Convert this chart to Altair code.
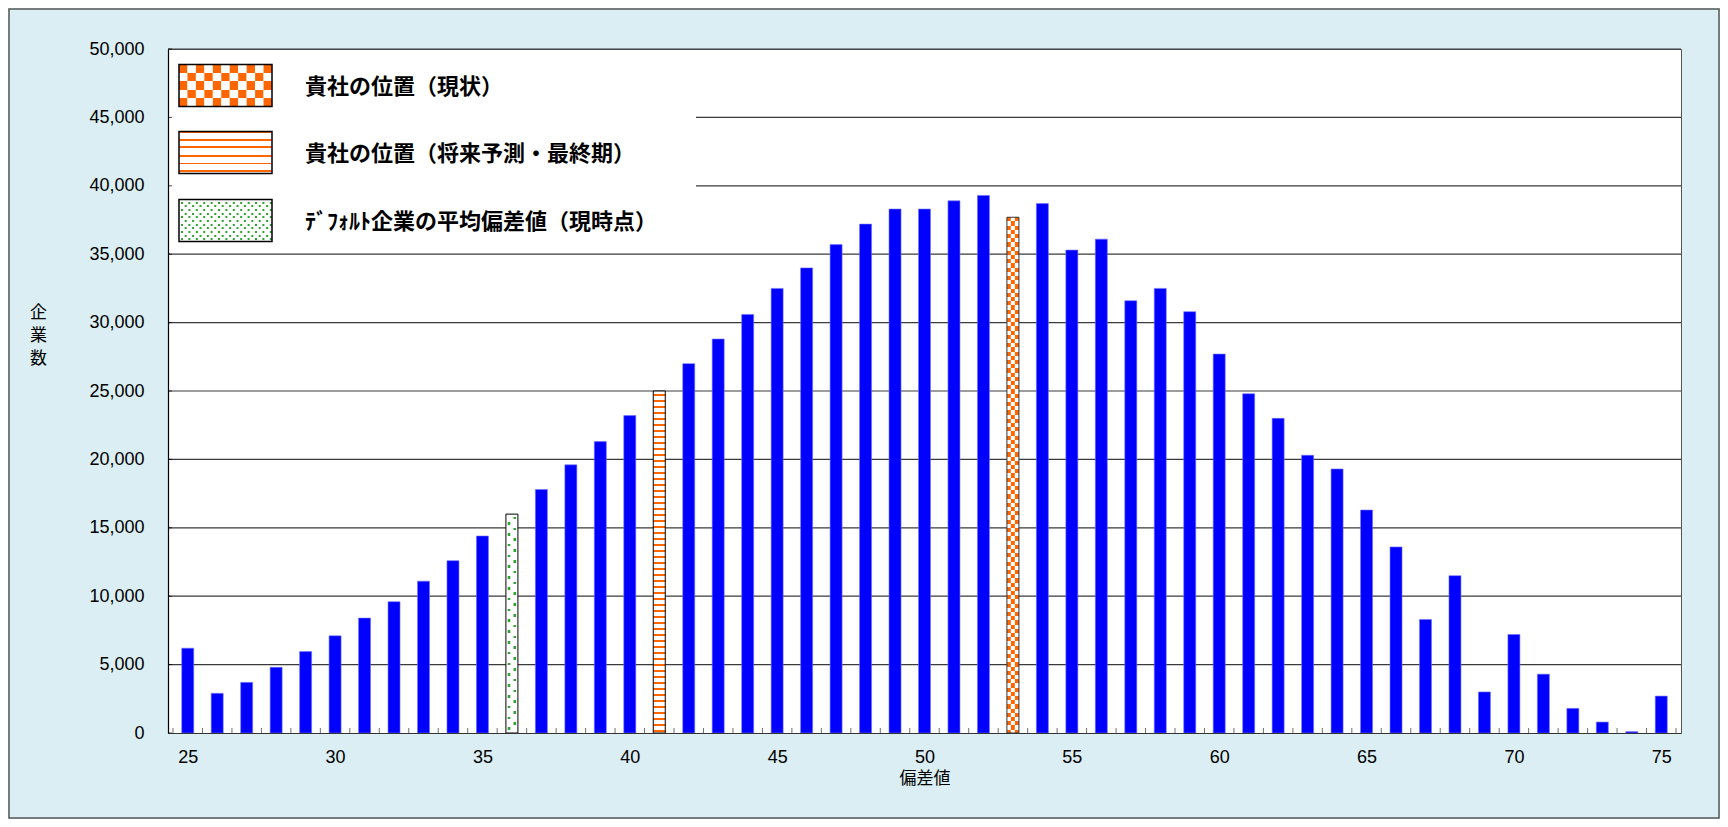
import altair as alt
import pandas as pd

# ---------------- data ----------------
scores = [25, 26, 27, 28, 29, 30, 31, 32, 33, 34, 35, 36, 37, 38, 39, 40,
          41, 42, 43, 44, 45, 46, 47, 48, 49, 50, 51, 52, 53, 54, 55, 56,
          57, 58, 59, 60, 61, 62, 63, 64, 65, 66, 67, 68, 69, 70, 71, 72,
          73, 74, 75]
counts = [6200, 2900, 3700, 4800, 5950, 7100, 8400, 9600, 11100, 12600,
          14400, 16000, 17800, 19600, 21300, 23200, 25000, 27000, 28800,
          30600, 32500, 34000, 35700, 37200, 38300, 38300, 38900, 39300,
          37700, 38700, 35300, 36100, 31600, 32500, 30800, 27700, 24800,
          23000, 20300, 19300, 16300, 13600, 8300, 11500, 3000, 7200, 4300,
          1800, 800, 100, 2700]
current_pos = 53      # 貴社の位置（現状）
future_pos = 41       # 貴社の位置（将来予測・最終期）
default_avg = 36      # デフォルト企業の平均偏差値（現時点）
legend_labels = ["貴社の位置（現状）",
                 "貴社の位置（将来予測・最終期）",
                 "ﾃﾞﾌｫﾙﾄ企業の平均偏差値（現時点）"]
y_ticks = [0, 5000, 10000, 15000, 20000, 25000, 30000, 35000, 40000, 45000, 50000]
x_labels = [25, 30, 35, 40, 45, 50, 55, 60, 65, 70, 75]
x_title = "偏差値"
y_title = ["企", "業", "数"]

# ---------------- style ----------------
W, H = 1513, 684
YMAX = 50000
BLUE = "#0000FF"
ORANGE = "#FF6600"
GREEN = "#2FA52F"
BG = "#DAEEF3"
JP = "Noto Sans CJK JP"
LAT = "Liberation Sans"

df = pd.DataFrame({"score": scores, "count": counts})
df_blue = df[~df["score"].isin([current_pos, future_pos, default_avg])]
one = pd.DataFrame({"k": [0]})


def pattern(h, period, on, phase, on_c, off_c="white"):
    """Vertical linear gradient producing hard-edged stripes over a box h px tall."""
    stops = [alt.GradientStop(offset=0, color=off_c)]
    k = -2
    while True:
        s = phase + k * period
        if s >= h:
            break
        e = s + on
        if e > 0:
            s0, e0 = max(s, 0.0) / h, min(e, h) / h
            stops += [alt.GradientStop(offset=round(s0, 5), color=off_c),
                      alt.GradientStop(offset=round(s0, 5), color=on_c),
                      alt.GradientStop(offset=round(e0, 5), color=on_c),
                      alt.GradientStop(offset=round(e0, 5), color=off_c)]
        k += 1
    stops.append(alt.GradientStop(offset=1, color=off_c))
    return alt.LinearGradient(gradient="linear", stops=stops, x1=0, x2=0, y1=0, y2=1)


def bar_px(v):
    return v / YMAX * H


x_enc = alt.X("score:Q",
              scale=alt.Scale(domain=[scores[0] - 0.5, scores[-1] + 0.5], nice=False, zero=False),
              axis=alt.Axis(values=x_labels, format="d", title=x_title, titleFont=JP,
                            titleFontSize=17, titleFontWeight="normal", titleColor="black",
                            titleY=45, titleBaseline="middle",
                            labelFont=LAT, labelFontSize=18, labelColor="black",
                            labelPadding=15, ticks=False, tickSize=0, grid=False,
                            domainColor="#333", domainWidth=1.2, zindex=1))
y_enc = alt.Y("count:Q",
              scale=alt.Scale(domain=[0, YMAX], nice=False),
              axis=alt.Axis(values=y_ticks, format=",.0f", title=None,
                            labelFont=LAT, labelFontSize=18, labelColor="black",
                            labelPadding=24, ticks=False, tickSize=0, grid=False,
                            domainColor="black", domainWidth=1.2, zindex=1))

layers = []

# gridlines
layers.append(alt.Chart(pd.DataFrame({"count": y_ticks[1:]}))
              .mark_rule(color="#3a3a3a", strokeWidth=1.2).encode(y=y_enc))

# blue bars
layers.append(alt.Chart(df_blue).mark_bar(orient="vertical", width=12, color=BLUE,
                                          stroke="#7070ff", strokeWidth=0.6)
              .encode(x=x_enc, y=y_enc))

# default average bar (green dots)
d36 = df[df["score"] == default_avg]
h36 = bar_px(float(d36["count"].iloc[0]))
layers.append(alt.Chart(d36).mark_bar(orient="vertical", width=12, color="white")
              .encode(x=x_enc, y=y_enc))
for xoff, ph in [(-2.9, 8.0), (2.9, 2.6)]:
    layers.append(alt.Chart(d36).mark_bar(orient="vertical", width=2.6, xOffset=xoff,
                                          fill=pattern(h36, 10.8, 2.6, ph, GREEN))
                  .encode(x=x_enc, y=y_enc))
layers.append(alt.Chart(d36).mark_bar(orient="vertical", width=12, fillOpacity=0,
                                      stroke="black", strokeWidth=1)
              .encode(x=x_enc, y=y_enc))

# future position bar (orange horizontal stripes)
d41 = df[df["score"] == future_pos]
h41 = bar_px(float(d41["count"].iloc[0]))
layers.append(alt.Chart(d41).mark_bar(orient="vertical", width=12,
                                      fill=pattern(h41, 6.0, 1.6, 3.0, ORANGE),
                                      stroke="black", strokeWidth=1)
              .encode(x=x_enc, y=y_enc))

# current position bar (orange checker)
d53 = df[df["score"] == current_pos]
h53 = bar_px(float(d53["count"].iloc[0]))
cell = 4.2
for i, xoff in enumerate([-4, 0, 4]):
    layers.append(alt.Chart(d53).mark_bar(orient="vertical", width=4, xOffset=xoff,
                                          fill=pattern(h53, 2 * cell, cell,
                                                       0 if i % 2 == 0 else cell, ORANGE))
                  .encode(x=x_enc, y=y_enc))
layers.append(alt.Chart(d53).mark_bar(orient="vertical", width=12, fillOpacity=0,
                                      stroke="#333", strokeWidth=1)
              .encode(x=x_enc, y=y_enc))

# ---------------- legend ----------------
layers.append(alt.Chart(one).mark_rect(color="white")
              .encode(x=alt.value(0), x2=alt.value(528), y=alt.value(1), y2=alt.value(203)))

sx0, sx1 = 11, 104
sw_tops = [15.5, 82.5, 150.5]
sh = 42

# swatch 1: checker
ncol = 11
cw = (sx1 - sx0) / ncol
rh = sh / 5
for i in range(ncol):
    layers.append(alt.Chart(one).mark_rect(
        fill=pattern(sh, 2 * rh, rh, 0 if i % 2 == 0 else rh, ORANGE))
        .encode(x=alt.value(sx0 + i * cw), x2=alt.value(sx0 + (i + 1) * cw),
                y=alt.value(sw_tops[0]), y2=alt.value(sw_tops[0] + sh)))

# swatch 2: horizontal stripes
layers.append(alt.Chart(one).mark_rect(fill=pattern(sh, 8.0, 2.0, 7.0, ORANGE))
              .encode(x=alt.value(sx0), x2=alt.value(sx1),
                      y=alt.value(sw_tops[1]), y2=alt.value(sw_tops[1] + sh)))

# swatch 3: dots
layers.append(alt.Chart(one).mark_rect(color="white")
              .encode(x=alt.value(sx0), x2=alt.value(sx1),
                      y=alt.value(sw_tops[2]), y2=alt.value(sw_tops[2] + sh)))
dstep = 3.7
j = 0
xx = sx0 + 2.0
while xx + 2 < sx1:
    layers.append(alt.Chart(one).mark_rect(
        fill=pattern(sh, 2 * dstep, 2.0, 2.0 if j % 2 == 0 else 2.0 + dstep, GREEN))
        .encode(x=alt.value(xx), x2=alt.value(xx + 2.0),
                y=alt.value(sw_tops[2]), y2=alt.value(sw_tops[2] + sh)))
    xx += dstep
    j += 1

for t in sw_tops:
    layers.append(alt.Chart(one).mark_rect(fillOpacity=0, stroke="black", strokeWidth=1.5)
                  .encode(x=alt.value(sx0), x2=alt.value(sx1),
                          y=alt.value(t), y2=alt.value(t + sh)))

for t, lab in zip(sw_tops, legend_labels):
    layers.append(alt.Chart(one).mark_text(align="left", baseline="middle", font=JP,
                                           fontWeight="bold", fontSize=22, color="black")
                  .encode(x=alt.value(137), y=alt.value(t + sh / 2 + 1), text=alt.value(lab)))

# inward ticks
boundaries = [s - 0.5 for s in scores] + [scores[-1] + 0.5]
layers.append(alt.Chart(pd.DataFrame({"score": boundaries}))
              .mark_tick(orient="vertical", size=5, thickness=1, color="#333")
              .encode(x=x_enc, y=alt.value(H - 2.5)))
layers.append(alt.Chart(pd.DataFrame({"count": y_ticks}))
              .mark_tick(orient="horizontal", size=4, thickness=1, color="black")
              .encode(y=y_enc, x=alt.value(2)))

# y title (stacked characters)
layers.append(alt.Chart(one).mark_text(text=y_title, align="center", baseline="middle",
                                       font=JP, fontSize=17, lineHeight=23, color="black")
              .encode(x=alt.value(-129.5), y=alt.value(264)))

# outer frame
layers.append(alt.Chart(one).mark_rect(fillOpacity=0, stroke="#555", strokeWidth=1.5)
              .encode(x=alt.value(-159), x2=alt.value(W + 38),
                      y=alt.value(-40), y2=alt.value(H + 85)))

chart = (alt.layer(*layers)
         .properties(width=W, height=H,
                     padding={"left": 160, "top": 41, "right": 39, "bottom": 86},
                     autosize=alt.AutoSizeParams(type="none"),
                     background=BG)
         .configure_view(stroke="#555", strokeWidth=1, fill="white"))

chart.save("out.html", embed_options={"renderer": "svg", "actions": False})
